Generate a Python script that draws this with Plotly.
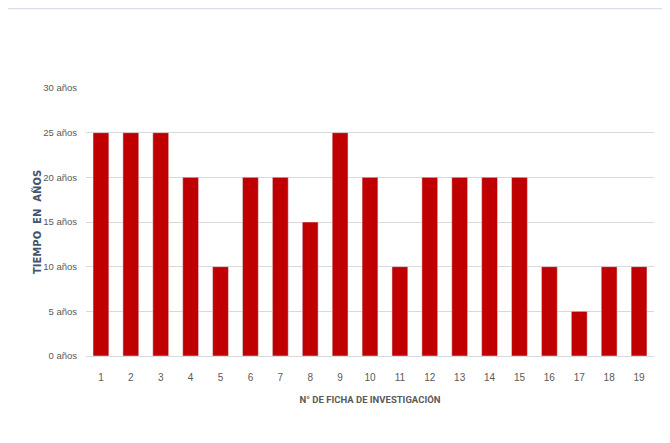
import plotly.graph_objects as go

fichas = [str(i) for i in range(1, 20)]
anos = [25, 25, 25, 20, 10, 20, 20, 15, 25, 20, 10, 20, 20, 20, 20, 10, 5, 10, 10]
y_ticks = [0, 5, 10, 15, 20, 25, 30]
y_labels = [f"{v} años" for v in y_ticks]

font_narrow = "Liberation Sans Narrow, Arial Narrow, sans-serif"

fig = go.Figure(go.Bar(
    x=fichas, y=anos, marker_color="#C00000", width=0.53,
))

W, H = 670, 443
L, R, T, B = 78, 24, 80, 95
pw, ph = W - L - R, H - T - B

fig.update_layout(
    width=W, height=H,
    margin=dict(l=L, r=R, t=T, b=B),
    paper_bgcolor="white", plot_bgcolor="white",
    showlegend=False,
    font=dict(family=font_narrow, color="#595959", size=10),
    xaxis=dict(
        type="category", showgrid=False, showline=True, linecolor="#D9D9D9",
        automargin=False,
        ticks="outside", ticklen=12, tickcolor="rgba(0,0,0,0)",
        tickfont=dict(size=10, color="#595959"),
        title=dict(text="<b>N° DE FICHA DE INVESTIGACIÓN</b>",
                   font=dict(size=9.5, color="#595959", family="Roboto, sans-serif"), standoff=14),
    ),
    yaxis=dict(
        range=[0, 30], tickvals=y_ticks, ticktext=y_labels,
        showgrid=True, gridcolor="#D9D9D9", gridwidth=1, zeroline=False,
        automargin=False,
        ticks="outside", ticklen=6, tickcolor="rgba(0,0,0,0)",
        tickfont=dict(size=9.5, color="#595959"),
    ),
    annotations=[dict(
        text="<b>TIEMPO  EN  AÑOS</b>", textangle=-90,
        xref="paper", yref="paper", x=0, y=0.5, xanchor="center", yanchor="middle",
        xshift=-(L - 29), showarrow=False,
        font=dict(size=10, color="#44546A", family="DejaVu Sans"),
    )],
    shapes=[dict(type="line", xref="paper", yref="paper",
                 x0=-L / pw, x1=(W - L) / pw,
                 y0=1 + (T - 0.5) / ph, y1=1 + (T - 0.5) / ph,
                 line=dict(color="#D9DEE8", width=1.5))],
)

fig.write_html("out.html")
